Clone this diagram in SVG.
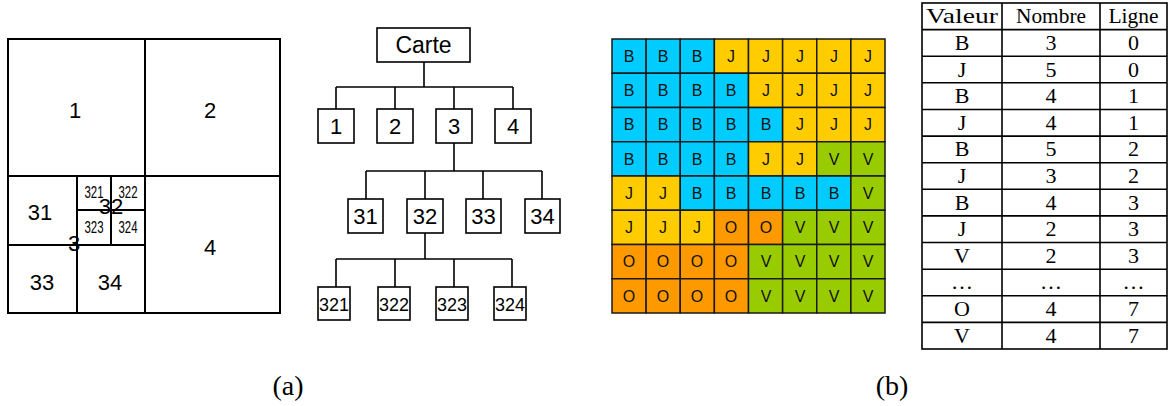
<svg xmlns="http://www.w3.org/2000/svg" width="1169" height="406" viewBox="0 0 1169 406">
<style>
.ln{stroke:#000;stroke-width:1.6;fill:none}
.qt{stroke:#000;stroke-width:2;fill:none}
.box{fill:#fff;stroke:#000;stroke-width:1.6}
.s{font-family:"Liberation Sans",Arial,sans-serif;fill:#000;text-anchor:middle}
.q{font-size:22px}
.qs{font-size:16px}
.t1{font-size:23px}
.t2{font-size:22px}
.t3{font-size:19px}
.g{font-family:"Liberation Sans",Arial,sans-serif;font-size:16px;text-anchor:middle;fill:#111}
.B{fill:#00CCFF}.J{fill:#FFCC00}.V{fill:#99CC00}.O{fill:#FF9900}
.cell{stroke:#1a1a1a;stroke-width:1.5}
.tb{font-family:"Liberation Serif","Times New Roman",serif;font-size:22px;text-anchor:middle;fill:#000}
.cap{font-family:"Liberation Serif","Times New Roman",serif;font-size:28px;text-anchor:middle;fill:#000}
</style>
<rect width="1169" height="406" fill="#fff"/>

<!-- (a) quadtree map -->
<g id="quadtree-map">
<rect class="qt" x="8" y="39" width="272" height="274"/>
<line class="qt" x1="145" y1="39" x2="145" y2="313"/>
<line class="qt" x1="8" y1="176" x2="280" y2="176"/>
<line class="qt" x1="77" y1="176" x2="77" y2="313"/>
<line class="qt" x1="8" y1="245" x2="145" y2="245"/>
<line class="qt" x1="111" y1="176" x2="111" y2="245"/>
<line class="qt" x1="77" y1="210" x2="145" y2="210"/>
<text class="s q" x="75" y="118">1</text>
<text class="s q" x="210" y="118">2</text>
<text class="s q" x="210" y="255">4</text>
<text class="s q" x="40" y="220">31</text>
<text class="s q" x="42" y="290">33</text>
<text class="s q" x="110" y="290">34</text>
<text class="s q" x="74" y="251">3</text>
<text class="s q" x="111" y="214">32</text>
<text class="s qs" x="94" y="198" textLength="19" lengthAdjust="spacingAndGlyphs">321</text>
<text class="s qs" x="128" y="198" textLength="19" lengthAdjust="spacingAndGlyphs">322</text>
<text class="s qs" x="94" y="233" textLength="19" lengthAdjust="spacingAndGlyphs">323</text>
<text class="s qs" x="128" y="233" textLength="19" lengthAdjust="spacingAndGlyphs">324</text>
</g>

<!-- (a) tree -->
<g id="connectors">
<path class="ln" d="M424,62V87M336,87H513M336,87V109M395,87V109M454,87V109M513,87V109"/>
<path class="ln" d="M454,143V171M366,171H542M366,171V199M425,171V199M483,171V199M542,171V199"/>
<path class="ln" d="M425,233V259M336,259H512M336,259V287M395,259V287M454,259V287M512,259V287"/>
</g>
<g id="node-carte"><rect class="box" x="377" y="28" width="93" height="34"/><text class="s t1" x="423.5" y="53">Carte</text></g>
<g id="node-1"><rect class="box" x="318" y="109" width="36" height="34"/><text class="s t2" x="336" y="134">1</text></g>
<g id="node-2"><rect class="box" x="377" y="109" width="36" height="34"/><text class="s t2" x="395" y="134">2</text></g>
<g id="node-3"><rect class="box" x="436" y="109" width="36" height="34"/><text class="s t2" x="454" y="134">3</text></g>
<g id="node-4"><rect class="box" x="495" y="109" width="36" height="34"/><text class="s t2" x="513" y="134">4</text></g>
<g id="node-31"><rect class="box" x="348" y="199" width="35" height="34"/><text class="s t2" x="365.5" y="224">31</text></g>
<g id="node-32"><rect class="box" x="407" y="199" width="36" height="34"/><text class="s t2" x="425" y="224">32</text></g>
<g id="node-33"><rect class="box" x="466" y="199" width="35" height="34"/><text class="s t2" x="483.5" y="224">33</text></g>
<g id="node-34"><rect class="box" x="525" y="199" width="35" height="34"/><text class="s t2" x="542.5" y="224">34</text></g>
<g id="node-321"><rect class="box" x="318" y="287" width="32" height="33"/><text class="s t3" x="334" y="311" textLength="30" lengthAdjust="spacingAndGlyphs">321</text></g>
<g id="node-322"><rect class="box" x="378" y="287" width="32" height="33"/><text class="s t3" x="394" y="311" textLength="30" lengthAdjust="spacingAndGlyphs">322</text></g>
<g id="node-323"><rect class="box" x="436" y="287" width="32" height="33"/><text class="s t3" x="452" y="311" textLength="30" lengthAdjust="spacingAndGlyphs">323</text></g>
<g id="node-324"><rect class="box" x="494" y="287" width="32" height="33"/><text class="s t3" x="510" y="311" textLength="30" lengthAdjust="spacingAndGlyphs">324</text></g>

<!-- (b) raster grid -->
<g id="grid">
<g class="cell">
<rect class="B" x="612" y="39" width="34.125" height="34.25"/><rect class="B" x="646.125" y="39" width="34.125" height="34.25"/><rect class="B" x="680.25" y="39" width="34.125" height="34.25"/><rect class="J" x="714.375" y="39" width="34.125" height="34.25"/><rect class="J" x="748.5" y="39" width="34.125" height="34.25"/><rect class="J" x="782.625" y="39" width="34.125" height="34.25"/><rect class="J" x="816.75" y="39" width="34.125" height="34.25"/><rect class="J" x="850.875" y="39" width="34.125" height="34.25"/>
<rect class="B" x="612" y="73.25" width="34.125" height="34.25"/><rect class="B" x="646.125" y="73.25" width="34.125" height="34.25"/><rect class="B" x="680.25" y="73.25" width="34.125" height="34.25"/><rect class="B" x="714.375" y="73.25" width="34.125" height="34.25"/><rect class="J" x="748.5" y="73.25" width="34.125" height="34.25"/><rect class="J" x="782.625" y="73.25" width="34.125" height="34.25"/><rect class="J" x="816.75" y="73.25" width="34.125" height="34.25"/><rect class="J" x="850.875" y="73.25" width="34.125" height="34.25"/>
<rect class="B" x="612" y="107.5" width="34.125" height="34.25"/><rect class="B" x="646.125" y="107.5" width="34.125" height="34.25"/><rect class="B" x="680.25" y="107.5" width="34.125" height="34.25"/><rect class="B" x="714.375" y="107.5" width="34.125" height="34.25"/><rect class="B" x="748.5" y="107.5" width="34.125" height="34.25"/><rect class="J" x="782.625" y="107.5" width="34.125" height="34.25"/><rect class="J" x="816.75" y="107.5" width="34.125" height="34.25"/><rect class="J" x="850.875" y="107.5" width="34.125" height="34.25"/>
<rect class="B" x="612" y="141.75" width="34.125" height="34.25"/><rect class="B" x="646.125" y="141.75" width="34.125" height="34.25"/><rect class="B" x="680.25" y="141.75" width="34.125" height="34.25"/><rect class="B" x="714.375" y="141.75" width="34.125" height="34.25"/><rect class="J" x="748.5" y="141.75" width="34.125" height="34.25"/><rect class="J" x="782.625" y="141.75" width="34.125" height="34.25"/><rect class="V" x="816.75" y="141.75" width="34.125" height="34.25"/><rect class="V" x="850.875" y="141.75" width="34.125" height="34.25"/>
<rect class="J" x="612" y="176" width="34.125" height="34.25"/><rect class="J" x="646.125" y="176" width="34.125" height="34.25"/><rect class="B" x="680.25" y="176" width="34.125" height="34.25"/><rect class="B" x="714.375" y="176" width="34.125" height="34.25"/><rect class="B" x="748.5" y="176" width="34.125" height="34.25"/><rect class="B" x="782.625" y="176" width="34.125" height="34.25"/><rect class="B" x="816.75" y="176" width="34.125" height="34.25"/><rect class="V" x="850.875" y="176" width="34.125" height="34.25"/>
<rect class="J" x="612" y="210.25" width="34.125" height="34.25"/><rect class="J" x="646.125" y="210.25" width="34.125" height="34.25"/><rect class="J" x="680.25" y="210.25" width="34.125" height="34.25"/><rect class="O" x="714.375" y="210.25" width="34.125" height="34.25"/><rect class="O" x="748.5" y="210.25" width="34.125" height="34.25"/><rect class="V" x="782.625" y="210.25" width="34.125" height="34.25"/><rect class="V" x="816.75" y="210.25" width="34.125" height="34.25"/><rect class="V" x="850.875" y="210.25" width="34.125" height="34.25"/>
<rect class="O" x="612" y="244.5" width="34.125" height="34.25"/><rect class="O" x="646.125" y="244.5" width="34.125" height="34.25"/><rect class="O" x="680.25" y="244.5" width="34.125" height="34.25"/><rect class="O" x="714.375" y="244.5" width="34.125" height="34.25"/><rect class="V" x="748.5" y="244.5" width="34.125" height="34.25"/><rect class="V" x="782.625" y="244.5" width="34.125" height="34.25"/><rect class="V" x="816.75" y="244.5" width="34.125" height="34.25"/><rect class="V" x="850.875" y="244.5" width="34.125" height="34.25"/>
<rect class="O" x="612" y="278.75" width="34.125" height="34.25"/><rect class="O" x="646.125" y="278.75" width="34.125" height="34.25"/><rect class="O" x="680.25" y="278.75" width="34.125" height="34.25"/><rect class="O" x="714.375" y="278.75" width="34.125" height="34.25"/><rect class="V" x="748.5" y="278.75" width="34.125" height="34.25"/><rect class="V" x="782.625" y="278.75" width="34.125" height="34.25"/><rect class="V" x="816.75" y="278.75" width="34.125" height="34.25"/><rect class="V" x="850.875" y="278.75" width="34.125" height="34.25"/>
</g>
<g class="g">
<text x="629" y="62">B</text><text x="663" y="62">B</text><text x="697" y="62">B</text><text x="731" y="62">J</text><text x="766" y="62">J</text><text x="800" y="62">J</text><text x="834" y="62">J</text><text x="868" y="62">J</text>
<text x="629" y="96">B</text><text x="663" y="96">B</text><text x="697" y="96">B</text><text x="731" y="96">B</text><text x="766" y="96">J</text><text x="800" y="96">J</text><text x="834" y="96">J</text><text x="868" y="96">J</text>
<text x="629" y="130">B</text><text x="663" y="130">B</text><text x="697" y="130">B</text><text x="731" y="130">B</text><text x="766" y="130">B</text><text x="800" y="130">J</text><text x="834" y="130">J</text><text x="868" y="130">J</text>
<text x="629" y="165">B</text><text x="663" y="165">B</text><text x="697" y="165">B</text><text x="731" y="165">B</text><text x="766" y="165">J</text><text x="800" y="165">J</text><text x="834" y="165">V</text><text x="868" y="165">V</text>
<text x="629" y="199">J</text><text x="663" y="199">J</text><text x="697" y="199">B</text><text x="731" y="199">B</text><text x="766" y="199">B</text><text x="800" y="199">B</text><text x="834" y="199">B</text><text x="868" y="199">V</text>
<text x="629" y="233">J</text><text x="663" y="233">J</text><text x="697" y="233">J</text><text x="731" y="233">O</text><text x="766" y="233">O</text><text x="800" y="233">V</text><text x="834" y="233">V</text><text x="868" y="233">V</text>
<text x="629" y="267">O</text><text x="663" y="267">O</text><text x="697" y="267">O</text><text x="731" y="267">O</text><text x="766" y="267">V</text><text x="800" y="267">V</text><text x="834" y="267">V</text><text x="868" y="267">V</text>
<text x="629" y="302">O</text><text x="663" y="302">O</text><text x="697" y="302">O</text><text x="731" y="302">O</text><text x="766" y="302">V</text><text x="800" y="302">V</text><text x="834" y="302">V</text><text x="868" y="302">V</text>
</g>
</g>

<!-- (b) run-length table -->
<g id="table">
<rect class="ln" x="922" y="3" width="245" height="346"/>
<path class="ln" d="M1002,3V349M1100,3V349"/>
<path class="ln" d="M922,29.6H1167M922,56.2H1167M922,82.8H1167M922,109.5H1167M922,136.1H1167M922,162.7H1167M922,189.3H1167M922,215.9H1167M922,242.5H1167M922,269.2H1167M922,295.8H1167M922,322.4H1167"/>
<g class="tb">
<text x="962" y="23" textLength="72" lengthAdjust="spacingAndGlyphs">Valeur</text><text x="1051" y="23" textLength="70" lengthAdjust="spacingAndGlyphs">Nombre</text><text x="1133.5" y="23" textLength="50" lengthAdjust="spacingAndGlyphs">Ligne</text>
<text x="962" y="50">B</text><text x="1051" y="50">3</text><text x="1133.5" y="50">0</text>
<text x="962" y="77">J</text><text x="1051" y="77">5</text><text x="1133.5" y="77">0</text>
<text x="962" y="103">B</text><text x="1051" y="103">4</text><text x="1133.5" y="103">1</text>
<text x="962" y="130">J</text><text x="1051" y="130">4</text><text x="1133.5" y="130">1</text>
<text x="962" y="156">B</text><text x="1051" y="156">5</text><text x="1133.5" y="156">2</text>
<text x="962" y="183">J</text><text x="1051" y="183">3</text><text x="1133.5" y="183">2</text>
<text x="962" y="210">B</text><text x="1051" y="210">4</text><text x="1133.5" y="210">3</text>
<text x="962" y="236">J</text><text x="1051" y="236">2</text><text x="1133.5" y="236">3</text>
<text x="962" y="263">V</text><text x="1051" y="263">2</text><text x="1133.5" y="263">3</text>
<text x="962" y="289">…</text><text x="1051" y="289">…</text><text x="1133.5" y="289">…</text>
<text x="962" y="316">O</text><text x="1051" y="316">4</text><text x="1133.5" y="316">7</text>
<text x="962" y="343">V</text><text x="1051" y="343">4</text><text x="1133.5" y="343">7</text>
</g>
</g>

<g id="captions">
<text class="cap" x="288" y="395">(a)</text>
<text class="cap" x="892" y="395">(b)</text>
</g>
</svg>
